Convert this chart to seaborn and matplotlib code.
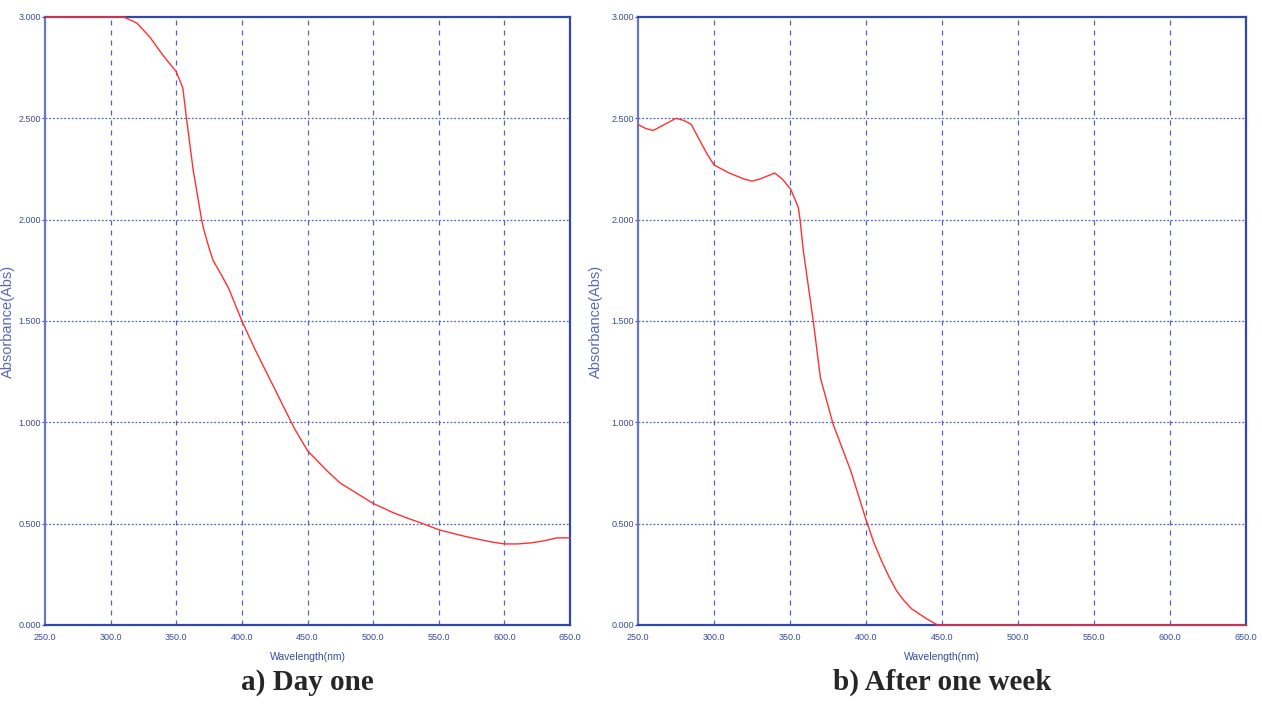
import matplotlib
matplotlib.use("Agg")
import matplotlib.pyplot as plt
import seaborn as sns
import pandas as pd

# Day one spectrum
wl_a = [250, 270, 290, 305, 310, 320, 330, 340, 350, 355, 358, 363, 369.6, 371, 375, 378, 385, 390,
        400, 410, 420, 430, 440, 450, 465, 475, 490, 500, 515, 525, 540, 550, 565, 575, 590, 600,
        610, 620, 630, 640, 650]
abs_a = [3.0, 3.0, 3.0, 3.0, 3.0, 2.97, 2.90, 2.81, 2.73, 2.65, 2.49, 2.24, 1.99, 1.95, 1.86, 1.80,
         1.72, 1.66, 1.50, 1.36, 1.23, 1.10, 0.97, 0.86, 0.76, 0.70, 0.64, 0.60, 0.555, 0.53, 0.495,
         0.47, 0.445, 0.43, 0.41, 0.40, 0.40, 0.405, 0.415, 0.43, 0.43]

# After one week spectrum
wl_b = [250, 255, 260, 265, 270, 275, 280, 285, 290, 295, 300, 310, 320, 325, 330, 340, 345, 350.5,
        355.5, 356.6, 358.7, 365.3, 370, 378.4, 390, 400, 405, 410, 415, 420, 425, 430, 440, 447,
        460, 500, 550, 600, 650]
abs_b = [2.47, 2.45, 2.44, 2.46, 2.48, 2.50, 2.49, 2.47, 2.40, 2.33, 2.27, 2.23, 2.20, 2.19, 2.20,
         2.23, 2.20, 2.15, 2.06, 2.00, 1.85, 1.50, 1.22, 0.99, 0.76, 0.52, 0.41, 0.32, 0.24, 0.17,
         0.12, 0.08, 0.03, 0.0, 0.0, 0.0, 0.0, 0.0, 0.0]

x_ticks = [250, 300, 350, 400, 450, 500, 550, 600, 650]
y_ticks = [0.0, 0.5, 1.0, 1.5, 2.0, 2.5, 3.0]
captions = ["a) Day one", "b) After one week"]

sns.set_style("white")
fig = plt.figure(figsize=(12.62, 7.22), dpi=100)
axes = [fig.add_axes([45/1262, 1-625/722, 525/1262, 608/722]),
        fig.add_axes([638/1262, 1-625/722, 608/1262, 608/722])]
ylab_x = [15, 603]

spine_col = "#3048a8"
tick_col = "#3a4a9c"
grid_col = "#5262c0"

for ax, wl, ab, cap, yx in zip(axes, [wl_a, wl_b], [abs_a, abs_b], captions, ylab_x):
    df = pd.DataFrame({"wl": wl, "abs": ab})
    ax.set_xlim(250, 650)
    ax.set_ylim(0, 3.0)
    ax.set_xticks(x_ticks)
    ax.set_yticks(y_ticks)
    ax.set_xticklabels([f"{v:.1f}" for v in x_ticks], family="Liberation Sans")
    ax.set_yticklabels([f"{v:.3f}" for v in y_ticks], family="Liberation Sans")
    for v in x_ticks[1:-1]:
        ax.axvline(v, color=grid_col, lw=0.9, ls=(0, (4, 4)), zorder=1)
    for v in y_ticks[1:-1]:
        ax.axhline(v, color=grid_col, lw=0.9, ls=(0, (1.5, 1.5)), zorder=1)
    for s in ax.spines.values():
        s.set_color(spine_col)
        s.set_linewidth(1.6)
    ax.spines["left"].set_color("#6a78c4")
    sns.lineplot(data=df, x="wl", y="abs", ax=ax, color="#ff3030", lw=1.0, zorder=5, clip_on=False)
    ax.tick_params(axis="both", labelsize=6.5, colors=tick_col, length=2, width=0.8,
                   direction="out", pad=1, left=True, bottom=False)
    ax.tick_params(axis="x", pad=4)
    ax.set_xlabel("Wavelength(nm)", fontsize=7.5, color=tick_col, family="Liberation Sans")
    ax.xaxis.set_label_coords(0.5, -(652 - 625) / 608)
    ax.set_ylabel("Absorbance(Abs)", fontsize=10.5, color="#5a68b8", family="Liberation Sans")
    bb = ax.get_position()
    ax.yaxis.set_label_coords((yx - bb.x0 * 1262) / (bb.width * 1262), 0.5)
    fig.text((bb.x0 + bb.x1) / 2, 1 - 682/722, cap, ha="center", va="center",
             fontsize=21, fontweight="bold", family="Liberation Serif")

fig.savefig("out.png", dpi=100)
